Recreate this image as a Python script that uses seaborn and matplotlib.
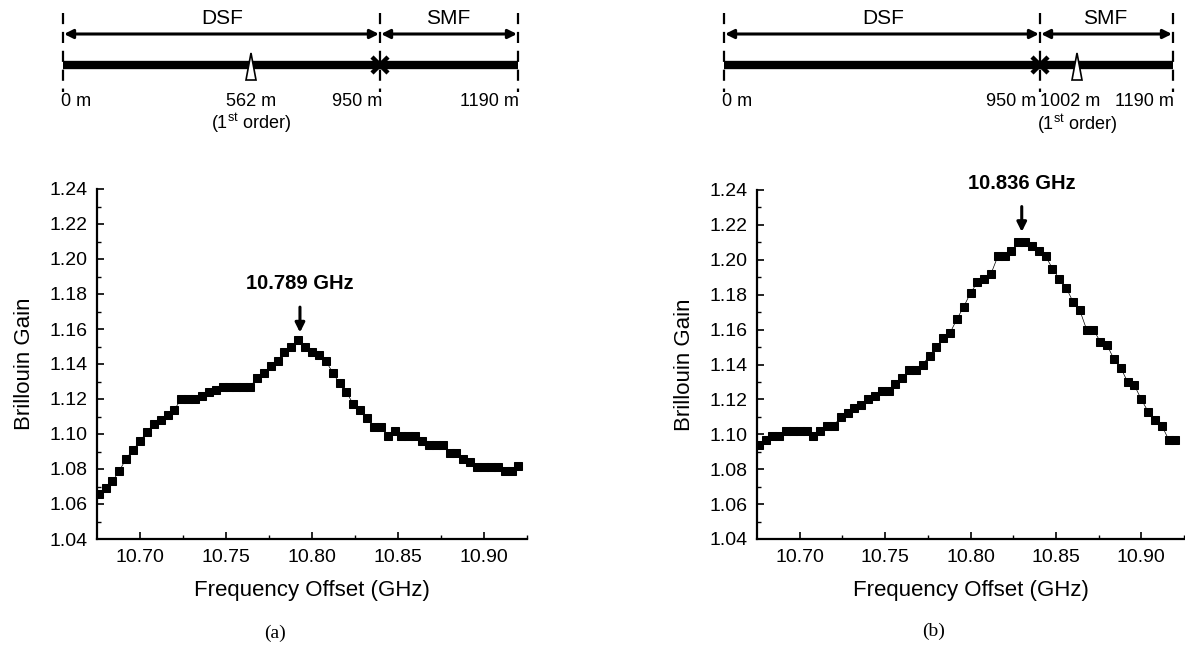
import matplotlib
matplotlib.use("Agg")
import matplotlib.pyplot as plt
import seaborn as sns
import pandas as pd
from matplotlib.patches import Polygon

# ---------------- data ----------------
freq_ghz = [10.676, 10.680, 10.684, 10.688, 10.692, 10.696, 10.700, 10.704, 10.708, 10.712,
            10.716, 10.720, 10.724, 10.728, 10.732, 10.736, 10.740, 10.744, 10.748, 10.752,
            10.756, 10.760, 10.764, 10.768, 10.772, 10.776, 10.780, 10.784, 10.788, 10.792,
            10.796, 10.800, 10.804, 10.808, 10.812, 10.816, 10.820, 10.824, 10.828, 10.832,
            10.836, 10.840, 10.844, 10.848, 10.852, 10.856, 10.860, 10.864, 10.868, 10.872,
            10.876, 10.880, 10.884, 10.888, 10.892, 10.896, 10.900, 10.904, 10.908, 10.912,
            10.916, 10.920]

gain_a = [1.066, 1.069, 1.073, 1.079, 1.086, 1.091, 1.096, 1.101, 1.106, 1.108,
          1.111, 1.114, 1.120, 1.120, 1.120, 1.122, 1.124, 1.125, 1.127, 1.127,
          1.127, 1.127, 1.127, 1.132, 1.135, 1.139, 1.142, 1.147, 1.150, 1.154,
          1.150, 1.147, 1.145, 1.142, 1.135, 1.129, 1.124, 1.117, 1.114, 1.109,
          1.104, 1.104, 1.099, 1.102, 1.099, 1.099, 1.099, 1.096, 1.094, 1.094,
          1.094, 1.089, 1.089, 1.086, 1.084, 1.081, 1.081, 1.081, 1.081, 1.079,
          1.079, 1.082]

gain_b = [1.094, 1.097, 1.099, 1.099, 1.102, 1.102, 1.102, 1.102, 1.099, 1.102,
          1.105, 1.105, 1.110, 1.112, 1.115, 1.117, 1.120, 1.122, 1.125, 1.125,
          1.129, 1.132, 1.137, 1.137, 1.140, 1.145, 1.150, 1.155, 1.158, 1.166,
          1.173, 1.181, 1.187, 1.189, 1.192, 1.202, 1.202, 1.205, 1.210, 1.210,
          1.208, 1.205, 1.202, 1.195, 1.189, 1.184, 1.176, 1.171, 1.160, 1.160,
          1.153, 1.151, 1.143, 1.138, 1.130, 1.128, 1.120, 1.113, 1.108, 1.105,
          1.097, 1.097]

peak_labels = ["10.789 GHz", "10.836 GHz"]
peak_arrow_x = [10.793, 10.830]
peak_arrow_y = [1.158, 1.216]
panel_labels = ["(a)", "(b)"]
x_ticks = [10.70, 10.75, 10.80, 10.85, 10.90]
y_ticks = [1.04, 1.06, 1.08, 1.10, 1.12, 1.14, 1.16, 1.18, 1.20, 1.22, 1.24]

# schematic (diagram, drawn in pixel units of the top strip)
fiber_names = ["DSF", "SMF"]
schem_a_bounds = [63, 380, 518]      # 0 m, 950 m, 1190 m
schem_a_probe = 251                  # 562 m
schem_a_texts = ["0 m", "562 m", "950 m", "1190 m"]
schem_b_bounds = [724, 1040, 1173]
schem_b_probe = 1077                 # 1002 m
schem_b_texts = ["0 m", "950 m", "1002 m", "1190 m"]

# ---------------- style ----------------
sns.set_style("ticks")
plt.rcParams["font.family"] = ["Liberation Sans", "DejaVu Sans"]
plt.rcParams["mathtext.fontset"] = "custom"
plt.rcParams["mathtext.rm"] = "Liberation Sans"
plt.rcParams["text.color"] = "black"
plt.rcParams["axes.labelcolor"] = "black"
plt.rcParams["xtick.color"] = "black"
plt.rcParams["ytick.color"] = "black"

W, H = 1185, 646
fig = plt.figure(figsize=(W / 100, H / 100), dpi=100)

axes_px = [(97, 189, 430, 350), (757, 190, 427, 349)]
gains = [gain_a, gain_b]
for k, (l, t, w, h) in enumerate(axes_px):
    ax = fig.add_axes([l / W, 1 - (t + h) / H, w / W, h / H])
    df = pd.DataFrame({"f": freq_ghz, "g": gains[k]})
    sns.lineplot(data=df, x="f", y="g", ax=ax, color="black", lw=0.5,
                 marker="s", markersize=5.5, markeredgecolor="black",
                 markerfacecolor="black")
    ax.set_xlim(10.675, 10.925)
    ax.set_ylim(1.04, 1.24)
    ax.set_xticks(x_ticks)
    ax.set_xticklabels([f"{v:.2f}" for v in x_ticks])
    ax.set_xticks([v + 0.025 for v in x_ticks[:-1]] + [10.925], minor=True)
    ax.set_yticks(y_ticks)
    ax.set_yticklabels([f"{v:.2f}" for v in y_ticks])
    ax.set_yticks([v + 0.01 for v in y_ticks[:-1]], minor=True)
    ax.tick_params(which="major", direction="in", length=5, width=1.2,
                   labelsize=14, pad=7, colors="black")
    ax.tick_params(which="minor", direction="in", length=3, width=1.0, colors="black")
    for s in ["top", "right"]:
        ax.spines[s].set_visible(False)
    for s in ["left", "bottom"]:
        ax.spines[s].set_linewidth(1.6)
        ax.spines[s].set_color("black")
    ax.set_xlabel("Frequency Offset (GHz)", fontsize=16, labelpad=10, color="black")
    ax.set_ylabel("Brillouin Gain", fontsize=16, labelpad=10, color="black")
    ax.annotate("", xy=(peak_arrow_x[k], peak_arrow_y[k]),
                xytext=(peak_arrow_x[k], peak_arrow_y[k] + 0.0145),
                arrowprops=dict(arrowstyle="-|>", lw=2.2, color="black",
                                mutation_scale=14, shrinkA=0, shrinkB=0))
    ax.text(peak_arrow_x[k], peak_arrow_y[k] + 0.0225, peak_labels[k],
            ha="center", va="bottom", fontsize=14.5, fontweight="bold", color="black")
    ax.patch.set_alpha(0)

fig.text(275 / W, 1 - 633 / H, panel_labels[0], ha="center", va="center",
         fontsize=14, family="Liberation Serif", color="black")
fig.text(934 / W, 1 - 631 / H, panel_labels[1], ha="center", va="center",
         fontsize=14, family="Liberation Serif", color="black")

# ---------------- schematic strip ----------------
sx = fig.add_axes([0, 1 - 145 / H, 1, 145 / H])
sx.set_xlim(0, W)
sx.set_ylim(145, 0)
sx.axis("off")


def schematic(bounds, probe):
    x0, xm, x1 = bounds
    for xv in bounds:
        sx.plot([xv, xv], [13, 92], color="black", lw=1.6, ls=(0, (5, 3.5)))
    sx.plot([x0, x1], [65, 65], color="black", lw=6, solid_capstyle="butt")
    for a, b in [(x0, xm), (xm, x1)]:
        sx.annotate("", xy=(b - 1, 34), xytext=(a + 1, 34),
                    arrowprops=dict(arrowstyle="<|-|>", lw=2.2, color="black",
                                    mutation_scale=13, shrinkA=0, shrinkB=0))
    sx.text((x0 + xm) / 2 + 1, 18, fiber_names[0], ha="center", va="center", fontsize=15)
    sx.text((xm + x1) / 2 - 1, 18, fiber_names[1], ha="center", va="center", fontsize=15)
    tri = Polygon([[probe - 5, 80], [probe + 5, 80], [probe, 53]], closed=True,
                  facecolor="white", edgecolor="black", lw=1.2, zorder=5)
    sx.add_patch(tri)
    sx.plot([xm], [65], marker="x", color="black", ms=12, mew=3.2, zorder=6)
    return x0, xm, x1


x0, xm, x1 = schematic(schem_a_bounds, schem_a_probe)
sx.text(x0 - 2, 102, schem_a_texts[0], ha="left", va="center", fontsize=13)
sx.text(schem_a_probe, 102, schem_a_texts[1], ha="center", va="center", fontsize=13)
sx.text(xm + 2, 102, schem_a_texts[2], ha="right", va="center", fontsize=13)
sx.text(x1 + 1, 102, schem_a_texts[3], ha="right", va="center", fontsize=13)
sx.text(schem_a_probe, 123, r"(1$^{\rm st}$ order)", ha="center", va="center", fontsize=13)

x0, xm, x1 = schematic(schem_b_bounds, schem_b_probe)
sx.text(x0 - 2, 102, schem_b_texts[0], ha="left", va="center", fontsize=13)
sx.text(xm - 4, 102, schem_b_texts[1], ha="right", va="center", fontsize=13)
sx.text(schem_b_probe - 7, 102, schem_b_texts[2], ha="center", va="center", fontsize=13)
sx.text(x1 + 1, 102, schem_b_texts[3], ha="right", va="center", fontsize=13)
sx.text(schem_b_probe, 124, r"(1$^{\rm st}$ order)", ha="center", va="center", fontsize=13)

fig.savefig("out.png", dpi=100, facecolor="white")
